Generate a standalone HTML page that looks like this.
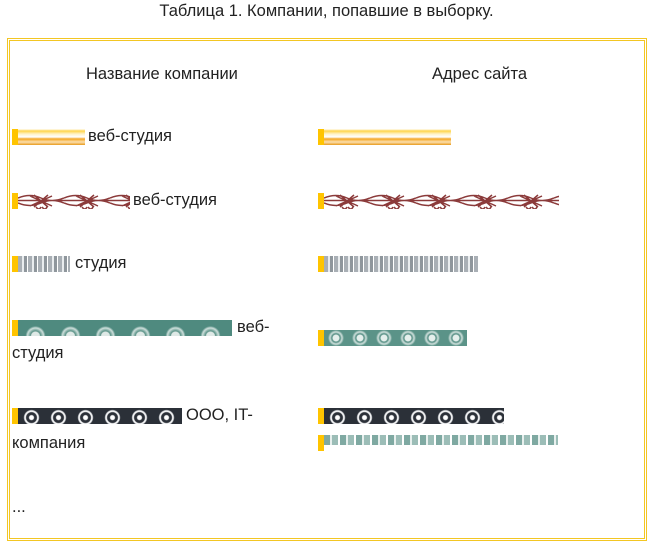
<!DOCTYPE html>
<html><head><meta charset="utf-8"><style>
html,body{margin:0;padding:0;background:#fff;}
body{width:653px;height:549px;position:relative;overflow:hidden;font-family:"Liberation Sans",sans-serif;color:#222;}
.a{position:absolute;white-space:nowrap;}
.t{font-size:16.5px;line-height:19px;}
.m{position:absolute;width:6px;height:16px;background:#ffc400;}
.p{position:absolute;height:16px;}
</style></head><body>
<div class="a t" style="left:0;width:653px;text-align:center;top:2px;">Таблица 1. Компании, попавшие в выборку.</div>
<div class="a" style="left:7px;top:38px;width:638px;height:501px;border:1px solid #f3c623;"></div>
<div class="a" style="left:9px;top:40px;width:634px;height:497px;border:1px solid #f3c623;"></div>

<div class="a t" style="left:86px;top:65px;">Название компании</div>
<div class="a t" style="left:432px;top:65px;">Адрес сайта</div>

<!-- row1 -->
<div class="m" style="left:12px;top:129px;"></div>
<div class="p" style="left:18px;top:129px;width:67px;background:linear-gradient(#fff 0,#ffd54a 2px,#fff3c8 5px,#fff 8px,#f5a623 10px,#fbe0b0 13px,#e89a1c 16px);"></div>
<div class="a t" style="left:88px;top:127px;">веб-студия</div>
<div class="m" style="left:318px;top:129px;"></div>
<div class="p" style="left:324px;top:129px;width:127px;background:linear-gradient(#fff 0,#ffd54a 2px,#fff3c8 5px,#fff 8px,#f5a623 10px,#fbe0b0 13px,#e89a1c 16px);"></div>

<!-- row2 -->
<div class="m" style="left:12px;top:193px;"></div>
<svg class="p" style="left:18px;top:193px;" width="112" height="16"><defs><pattern id="r" width="46" height="16" patternUnits="userSpaceOnUse"><path d="M0 5 Q12 0 23 5 T46 5 M0 10 Q12 15 23 10 T46 10 M0 7.5 H46 M16 2 L30 14 M30 2 L16 14 M12 3 L34 13 M34 3 L12 13 M18 14 q3 4 5 0 M24 14 q3 4 5 0" stroke="#8b3a3a" stroke-width="1.5" fill="none"/></pattern></defs><rect width="112" height="16" fill="url(#r)"/></svg>
<div class="a t" style="left:133px;top:191px;">веб-студия</div>
<div class="m" style="left:318px;top:193px;"></div>
<svg class="p" style="left:324px;top:193px;" width="235" height="16"><rect width="235" height="16" fill="url(#r)"/></svg>

<!-- row3 -->
<div class="m" style="left:12px;top:256px;"></div>
<div class="p" style="left:18px;top:256px;width:52px;background:repeating-linear-gradient(90deg,#a9afb5 0,#a9afb5 4px,#e9ecee 4px,#e9ecee 6px,#8f969c 6px,#8f969c 9px,#fff 9px,#fff 10px);"></div>
<div class="a t" style="left:75px;top:254px;">студия</div>
<div class="m" style="left:318px;top:256px;"></div>
<div class="p" style="left:324px;top:256px;width:154px;background:repeating-linear-gradient(90deg,#a9afb5 0,#a9afb5 4px,#e9ecee 4px,#e9ecee 6px,#8f969c 6px,#8f969c 9px,#fff 9px,#fff 10px);"></div>

<!-- row4 -->
<div class="m" style="left:12px;top:320px;"></div>
<div class="p" style="left:18px;top:320px;width:214px;background:radial-gradient(circle at 50% 100%,#dfe9e6 0,#dfe9e6 4px,#5b9388 5px,#cfe0dc 8px,#4f8a7f 10px) 0 0/35px 16px repeat-x;"></div>
<div class="a t" style="left:237px;top:318px;">веб-</div>
<div class="a t" style="left:12px;top:344px;">студия</div>
<div class="m" style="left:318px;top:330px;"></div>
<div class="p" style="left:324px;top:330px;width:143px;background:radial-gradient(circle at 50% 50%,#e5efec 0,#e5efec 3px,#4f8a7f 4px,#cfe0dc 6px,#5b9388 8px) 0 0/24px 16px repeat-x;"></div>

<!-- row5 -->
<div class="m" style="left:12px;top:408px;"></div>
<div class="p" style="left:18px;top:408px;width:164px;background:radial-gradient(circle at 50% 60%,#fff 0,#fff 2px,#2b3038 3px,#2b3038 5px,#fff 6px,#e3e5e8 7px,#2b3038 8px) 0 0/27px 16px repeat-x;"></div>
<div class="a t" style="left:186px;top:406px;">ООО, IT-</div>
<div class="a t" style="left:12px;top:434px;">компания</div>
<div class="m" style="left:318px;top:408px;"></div>
<div class="p" style="left:324px;top:408px;width:180px;background:radial-gradient(circle at 50% 60%,#fff 0,#fff 2px,#2b3038 3px,#2b3038 5px,#fff 6px,#e3e5e8 7px,#2b3038 8px) 0 0/27px 16px repeat-x;"></div>
<div class="m" style="left:318px;top:435px;"></div>
<div class="p" style="left:324px;top:435px;width:234px;height:10px;background:repeating-linear-gradient(90deg,#7fa9a2 0,#7fa9a2 6px,#e8f0ee 6px,#e8f0ee 8px,#9cbdb7 8px,#9cbdb7 14px,#fff 14px,#fff 16px);"></div>

<div class="a t" style="left:12px;top:498px;">...</div>
</body></html>
